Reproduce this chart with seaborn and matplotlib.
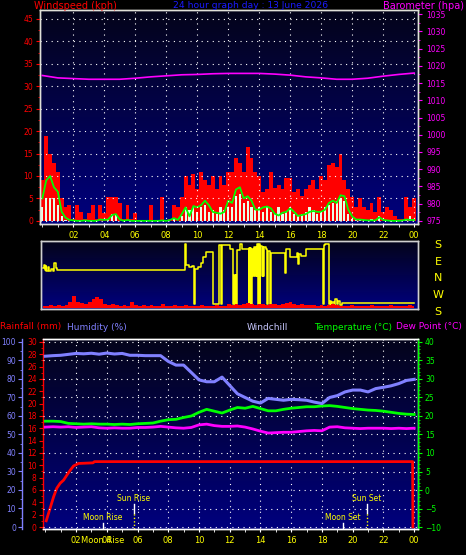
import numpy as np
import matplotlib
matplotlib.use("Agg")
import matplotlib.pyplot as plt
import matplotlib.transforms as mtransforms
from matplotlib.colors import LinearSegmentedColormap
from matplotlib.ticker import MultipleLocator
import seaborn as sns

title = "24 hour graph day : 13 June 2026"
hour_ticks = list(range(2, 25, 2))
hour_labels = ["02", "04", "06", "08", "10", "12", "14", "16", "18", "20", "22", "00"]

# wind readings every 15 minutes, 00:00 .. 24:00
wind_hours = np.arange(0, 24.01, 0.25)
gust_kph = [
    9, 19, 15, 13,   11, 5, 3, 3.5,   0.5, 3.5, 2, 0.5,   1.7, 3.5, 0.5, 3.5,
    1.7, 5.4, 5.4, 5.4,   4, 0.5, 3.5, 0.5,   1.7, 0.2, 0.2, 0.2,   3.5, 0.2, 0.2, 5.4,
    0.2, 0.5, 3.5, 3,   5.4, 10, 8, 10.5,   7, 11, 9, 8,   10, 7, 10, 8,
    11, 11, 14, 13,   11, 16.5, 14, 11,   10, 6.5, 7, 11,   7.3, 8, 7, 9.5,
    9.5, 6.5, 7, 5.5,   7, 8, 9, 7,   10, 9, 12.5, 13,   12, 15, 9, 7,
    5.4, 3, 5, 3,   2.5, 4, 2, 5.4,   2, 3, 2.5, 1,   0.5, 0.5, 5.4, 3,
    5,
]
avg_kph = [
    5, 9, 10, 7.5,   6.5, 2, 0.7, 0.2,   0.1, 0, 0, 0.1,   0, 0, 0, 0.3,
    0.2, 0.3, 1.3, 1.5,   0.3, 0, 0.2, 0,   0, 0, 0, 0,   0, 0, 0, 0.1,
    0, 0.2, 0.6, 0.2,   1.5, 3, 1, 3.3,   3, 3.5, 4.5, 3.5,   2, 1.8, 1.6, 2,
    4.5, 4, 7, 7.5,   5, 5.5, 4.5, 2.5,   2.5, 3, 3.2, 2.8,   1.6, 1.2, 1.8, 2,
    2.8, 2, 1.1, 1.3,   1.5, 2, 2.2, 2,   2, 2.5, 4, 4.5,   4, 5.7, 5.5, 2.5,
    1, 0.3, 0.3, 0.2,   0.1, 0.1, 0.1, 0.8,   0.2, 0.1, 0, 0,   0, 0.1, 0.3, 0.2,
    0.2,
]
speed_kph = [
    3, 5, 5, 5,   3.5, 1, 0.3, 0,   0, 0, 0, 0,   0, 0, 0, 0,
    0, 0.5, 1.5, 1.5,   0, 0, 0, 0,   0, 0, 0, 0,   0, 0, 0, 0,
    0, 0, 0.5, 0,   1, 3.2, 2.5, 3,   2, 3.2, 3.5, 2,   2.5, 1.5, 3, 2.5,
    3.2, 3, 5.5, 6,   4, 4.5, 3, 2.5,   3.2, 2, 3, 2,   1.5, 3.2, 1.5, 2,
    3, 1.5, 1, 1.5,   2, 3, 2.5, 1.5,   2, 3, 3.5, 4,   4.5, 5, 4.5, 1.5,
    0.5, 0.3, 0.5, 0.3,   0, 0.5, 0, 1,   0, 0.3, 0, 0,   0, 0, 0.5, 1,
    0.5,
]
# small wind trace under the direction plot
dirpanel_kph = [
    1, 1, 1.5, 1,   1.5, 1, 1.5, 3,   5.5, 3, 2.5, 2,   3, 4, 5, 4,
    2, 1.5, 2, 1.5,   1, 1.5, 1, 3,   1.5, 1, 1.5, 1,   1.5, 1, 1, 2,
    1, 1, 1.5, 1,   1, 1.5, 1, 1,   1, 1.5, 1, 1,   1, 1.5, 1, 1,
    2, 1.5, 2, 1.5,   2, 2.5, 2, 1.5,   2, 2, 1.5, 2,   2, 1.5, 2, 2.5,
    3, 2, 1.5, 2,   1.5, 1.5, 1.5, 1,   1.5, 1, 1.5, 2,   1.5, 1, 1, 1,
    1.5, 1, 1, 1,   1, 1.5, 1, 1,   1, 1, 1.5, 1,   1, 1, 1, 1.5,
    1,
]

baro_hours = list(range(25))
baro_hpa = [1017.2, 1016.5, 1016.3, 1016.1, 1016.1, 1016.1, 1016.4, 1016.8, 1017.1,
            1017.4, 1017.5, 1017.7, 1017.8, 1017.8, 1017.8, 1017.6, 1017.3, 1016.8,
            1016.5, 1016.1, 1016.1, 1016.4, 1017.0, 1017.5, 1017.9]

# wind direction (compass degrees)
dir_hours = [0.0, 0.05, 0.1, 0.15, 0.2, 0.3, 0.4, 0.5, 0.6, 0.7, 0.8, 0.9,
             9.2, 9.25, 9.45, 9.6, 9.76, 9.8, 10.0, 10.2, 10.35, 10.5, 10.95,
             11.4, 11.5, 11.55, 12.1, 12.3, 12.35, 12.4, 12.45, 12.5, 12.55, 12.75, 12.85,
             13.28, 13.32, 13.36, 13.4, 13.45, 13.5, 13.6, 13.65, 13.7, 13.75, 13.8,
             13.85, 13.9, 13.95, 14.0, 14.05, 14.15, 14.2, 14.25, 14.3, 14.4, 14.5,
             14.55, 14.7, 14.75, 15.65, 15.7, 15.95, 15.97, 16.4, 16.5, 16.55, 16.65,
             17.0, 18.1, 18.15, 18.25, 18.47, 18.55, 18.6, 18.7, 18.8, 18.9, 19.0,
             19.1, 19.2, 19.3, 24.0]
dir_deg = [55, 75, 45, 70, 40, 60, 40, 50, 40, 85, 55, 45,
           188, 74, 60, 70, 221, 50, 60, 85, 115, 144, 221,
           180, 221, 180, 160, 221, 20, 221, 20, 221, 155, 188, 160,
           221, 165, 221, 165, 221, 160, 15, 170, 15, 170, 15,
           188, 221, 188, 221, 175, 15, 170, 15, 170, 160, 221,
           150, 221, 140, 30, 160, 160, 118, 140, 80, 135, 122,
           162, 221, 180, 188, 221, 240, 215, 232, 218, 250, 222,
           236, 215, 227, 227]

# half hourly observations
obs_hours = np.arange(0, 24.01, 0.5)
humidity = [92.3, 92.6, 92.8, 93.3, 93.8, 93.6, 93.9, 93.4, 94.0, 93.5,
            93.8, 92.8, 92.8, 92.6, 92.6, 92.6, 89.5, 87.5, 87.5, 83.5,
            79.5, 78.5, 78.5, 81.0, 76.5, 72.0, 70.0, 68.0, 67.0, 69.5,
            69.0, 68.5, 69.0, 68.8, 68.5, 67.5, 66.7, 70.0, 71.0, 73.0,
            74.0, 74.0, 73.0, 74.8, 75.5, 76.3, 77.5, 79.2, 79.8]
temperature = [18.6, 18.6, 18.5, 18.0, 17.9, 17.8, 17.9, 17.8, 17.8, 17.7,
               17.8, 17.7, 17.9, 18.0, 18.1, 18.6, 19.0, 19.1, 19.6, 20.0,
               21.0, 21.8, 21.3, 20.8, 21.6, 22.3, 22.1, 22.6, 22.0, 21.4,
               21.4, 21.8, 22.1, 22.3, 22.5, 22.5, 22.7, 22.8, 22.6, 22.3,
               22.0, 21.8, 21.6, 21.5, 21.3, 21.0, 20.7, 20.5, 20.4]
dew_point = [17.0, 17.1, 17.0, 17.1, 16.9, 17.0, 17.1, 16.8, 16.7, 16.8,
             16.7, 16.7, 16.9, 16.9, 17.0, 17.2, 17.0, 16.8, 16.7, 16.9,
             17.6, 17.8, 17.4, 17.2, 17.2, 17.3, 17.0, 16.5, 15.9, 15.4,
             15.5, 15.6, 15.6, 15.8, 16.0, 16.1, 16.0, 17.0, 17.1, 16.8,
             16.7, 16.6, 16.7, 16.7, 16.7, 16.6, 16.7, 16.6, 16.7]

rain_hours = [0.06, 0.32, 0.54, 0.75, 0.97, 1.19, 1.40, 1.62, 1.84, 2.16, 3.10, 3.20, 23.90, 23.92]
rain_mm = [1.0, 3.1, 4.9, 6.3, 7.1, 7.6, 8.4, 9.2, 9.9, 10.3, 10.4, 10.6, 10.6, 0.0]

sun_rise, sun_set = 5.77, 20.93
moon_rise, moon_set = 3.76, 19.37

W, H = 466, 555
fig = plt.figure(figsize=(W / 100, H / 100), dpi=100, facecolor="black")


def box(l, t, r, b):
    return [l / W, 1 - b / H, (r - l) / W, (b - t) / H]


def px(x, y):
    return x / W, 1 - y / H


sky = LinearSegmentedColormap.from_list("sky", ["#04041a", "#00007e"])
grad = np.linspace(0, 1, 256).reshape(-1, 1)
dots = (0, (1, 4))
xlim = (-0.15, 24.25)


def backdrop(ax):
    ax.imshow(grad, cmap=sky, aspect="auto", extent=[0, 1, 0, 1],
              transform=ax.transAxes, zorder=0)


def frame(ax, color="#e0e0d8", hide=()):
    for name, s in ax.spines.items():
        s.set_color(color)
        s.set_linewidth(1)
        if name in hide:
            s.set_visible(False)


# ---- wind speed / barometer ----
ax1 = fig.add_axes(box(40, 10, 418, 224))
backdrop(ax1)
ax1.bar(wind_hours, gust_kph, width=0.25, color="#ff0000", linewidth=0, zorder=1)
ax1.bar(wind_hours, speed_kph, width=0.14, color="#e6ffe6", linewidth=0, zorder=1.2)
sns.lineplot(x=wind_hours, y=avg_kph, ax=ax1, color="#00ff00", linewidth=1.3, zorder=2)
ax1.set_xlim(*xlim)
ax1.set_ylim(-0.7, 47)
ax1.set_yticks(range(0, 46, 5))
ax1.yaxis.set_minor_locator(MultipleLocator(2.5))
ax1.set_xticks(hour_ticks, hour_labels)
ax1.xaxis.set_minor_locator(MultipleLocator(1))
ax1.tick_params(axis="y", which="both", colors="red", labelsize=5.5, pad=2)
ax1.tick_params(axis="y", which="major", length=3)
ax1.tick_params(axis="y", which="minor", length=1.5)
ax1.tick_params(axis="x", which="both", color="white", labelcolor="yellow",
                labelsize=6, length=2.5, pad=2.5)
ax1.grid(True, which="major", color="white", linestyle=dots, linewidth=0.8)
ax1.set_axisbelow(False)
ax1.set_xlabel("")
ax1.set_ylabel("")
frame(ax1)

ax1b = ax1.twinx()
sns.lineplot(x=baro_hours, y=baro_hpa, ax=ax1b, color="#ff00ff", linewidth=1.2)
ax1b.set_ylim(974.1, 1036.2)
ax1b.set_yticks(range(975, 1036, 5))
ax1b.yaxis.set_minor_locator(MultipleLocator(2.5))
ax1b.tick_params(axis="y", which="both", colors="#ff00ff", labelsize=5.5, pad=3)
ax1b.tick_params(axis="y", which="major", length=3)
ax1b.tick_params(axis="y", which="minor", length=1.5)
ax1b.set_ylabel("")
frame(ax1b)
ax1.set_xlim(*xlim)

# ---- wind direction ----
ax2 = fig.add_axes(box(41, 241, 418, 309))
backdrop(ax2)
dir_plot = [d - 360 if d > 200 else d for d in dir_deg]
sns.lineplot(x=dir_hours, y=dir_plot, ax=ax2, color="#ffff00", linewidth=1.1,
             drawstyle="steps-post", estimator=None, sort=False)
ax2.set_xlim(*xlim)
ax2.set_ylim(-166, 204)
ax2.set_xticks([])
ax2.set_yticks([])
ax2.set_xlabel("")
ax2.set_ylabel("")
frame(ax2, "#d0d0d0")
ax2b = ax2.twinx()
ax2b.fill_between(wind_hours, 0, dirpanel_kph, step="mid", color="#ff0000", linewidth=0)
ax2b.set_ylim(-0.3, 30)
ax2b.set_yticks([])
frame(ax2b, "#d0d0d0")
ax2.set_xlim(*xlim)
tr = mtransforms.blended_transform_factory(ax2.transAxes, ax2.transData)
for v, s in zip([180, 90, 0, -90, -180], "SENWS"):
    ax2.text((438 - 41) / 377, v, s, transform=tr, color="#ffff00", fontsize=8,
             ha="center", va="center", clip_on=False)

# ---- rainfall / humidity / temperature ----
ax3 = fig.add_axes(box(43, 339, 418, 529))
backdrop(ax3)
sns.lineplot(x=rain_hours, y=rain_mm, ax=ax3, color="#ff0000", linewidth=2,
             estimator=None, sort=False)
ax3.set_xlim(*xlim)
ax3.set_ylim(-0.324, 30.48)
ax3.set_yticks(range(0, 31, 2))
ax3.yaxis.set_minor_locator(MultipleLocator(1))
ax3.tick_params(axis="y", which="both", colors="red", labelsize=5.5, pad=1.5)
ax3.tick_params(axis="y", which="major", length=3)
ax3.tick_params(axis="y", which="minor", length=1.5)
ax3.set_xticks(hour_ticks, hour_labels)
ax3.xaxis.set_minor_locator(MultipleLocator(1))
ax3.tick_params(axis="x", which="both", color="white", labelcolor="yellow",
                labelsize=6, length=2.5, pad=2.5)
ax3.grid(True, axis="x", which="major", color="white", linestyle=dots, linewidth=0.8)
ax3.set_xlabel("")
ax3.set_ylabel("")
frame(ax3, "white")
ax3.spines["left"].set_color("red")

ax3t = ax3.twinx()
sns.lineplot(x=obs_hours, y=temperature, ax=ax3t, color="#00ff00", linewidth=2)
sns.lineplot(x=obs_hours, y=dew_point, ax=ax3t, color="#ff00ff", linewidth=2)
ax3t.set_ylim(-10.54, 40.81)
ax3t.set_yticks(range(-10, 41, 5))
ax3t.yaxis.set_minor_locator(MultipleLocator(1))
ax3t.tick_params(axis="y", which="both", colors="#00ff00", labelsize=5.5, pad=2)
ax3t.tick_params(axis="y", which="major", length=3)
ax3t.tick_params(axis="y", which="minor", length=1.5)
ax3t.grid(True, axis="y", which="major", color="white", linestyle=dots, linewidth=0.8)
ax3t.set_ylabel("")
frame(ax3t, "white", hide=("left",))
ax3t.spines["right"].set_color("#00ff00")

ax3h = ax3.twinx()
sns.lineplot(x=obs_hours, y=humidity, ax=ax3h, color="#8080ff", linewidth=2.2)
ax3h.set_ylim(-1.08, 101.6)
ax3h.spines["left"].set_position(("outward", 15))
ax3h.yaxis.set_ticks_position("left")
ax3h.set_yticks(range(0, 101, 10))
ax3h.yaxis.set_minor_locator(MultipleLocator(5))
ax3h.tick_params(axis="y", which="both", colors="#8080ff", labelsize=5.5, pad=1.5)
ax3h.tick_params(axis="y", which="major", length=3)
ax3h.tick_params(axis="y", which="minor", length=1.5)
ax3h.set_ylabel("")
frame(ax3h, "#8080ff", hide=("right", "top", "bottom"))
ax3.set_xlim(*xlim)

trx = ax3.get_xaxis_transform()
for h, name in [(sun_rise, "Sun Rise"), (sun_set, "Sun Set")]:
    ax3.plot([h, h], [0.084, 0.132], transform=trx, color="white", linewidth=1)
    ax3.plot([h, h], [0.0, 0.084], transform=trx, color="#ffff00", linewidth=1,
             linestyle=(0, (1, 1.5)))
    ax3.text(h, 0.163, name, transform=trx, color="#ffff00", fontsize=5.5,
             ha="center", va="center")
for h, name in [(moon_rise, "Moon Rise"), (moon_set, "Moon Set")]:
    ax3.plot([h, h], [0.0, 0.032], transform=trx, color="white", linewidth=1)
    ax3.text(h, 0.063, name, transform=trx, color="#ffff00", fontsize=5.5,
             ha="center", va="center")
ax3.text(moon_rise, -0.063, "Moon Rise", transform=trx, color="#ffff00", fontsize=6,
         ha="center", va="center", clip_on=False)

# ---- header texts ----
fig.text(*px(34, 6), "Windspeed (kph)", color="#ff0000", fontsize=7, ha="left", va="center")
fig.text(*px(251, 6), title, color="#1a1aff", fontsize=6.6, ha="center", va="center")
fig.text(*px(464, 6), "Barometer (hpa)", color="#ff00ff", fontsize=7, ha="right", va="center")
fig.text(*px(0, 327), "Rainfall (mm)", color="#ff0000", fontsize=6.5, ha="left", va="center")
fig.text(*px(67, 327), "Humidity (%)", color="#8080ff", fontsize=6.5, ha="left", va="center")
fig.text(*px(247, 327), "Windchill", color="#c8c8ff", fontsize=6.5, ha="left", va="center")
fig.text(*px(392, 327), "Temperature (°C)", color="#00ff00", fontsize=6.5, ha="right", va="center")
fig.text(*px(462, 327), "Dew Point (°C)", color="#ff00ff", fontsize=6.5, ha="right", va="center")

fig.savefig("out.png", dpi=100, facecolor="black")
